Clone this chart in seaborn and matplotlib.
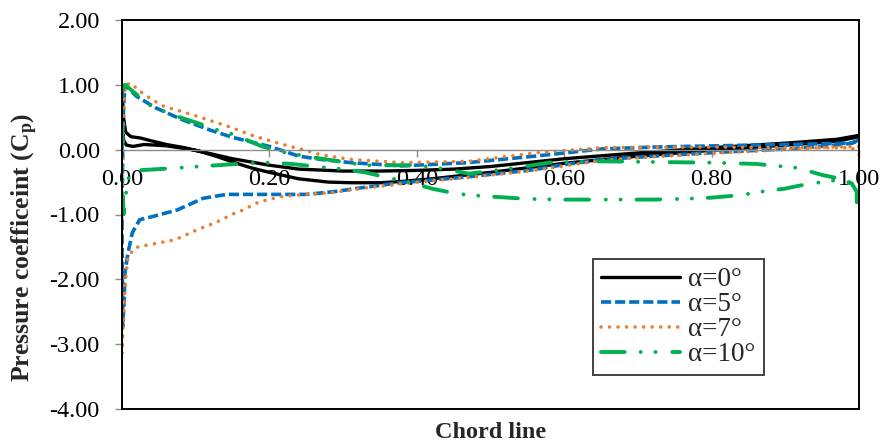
import numpy as np
import pandas as pd
import matplotlib
matplotlib.use("Agg")
import matplotlib.pyplot as plt
from matplotlib.patches import Rectangle
from matplotlib.ticker import FuncFormatter, FixedLocator
import seaborn as sns

# ---------------- data ----------------
labels = ["α=0°", "α=5°", "α=7°", "α=10°"]

# alpha = 0
x_a0_p = [1.0, 0.97, 0.90, 0.80, 0.70, 0.60, 0.55, 0.50, 0.45, 0.40, 0.35, 0.30, 0.24, 0.20, 0.15,
          0.10, 0.06, 0.03, 0.015, 0.006, 0.002, 0.0]
cp_a0_p = [0.22, 0.16, 0.10, 0.03, -0.05, -0.14, -0.20, -0.26, -0.30, -0.32, -0.33, -0.33, -0.30, -0.24, -0.14,
           -0.01, 0.06, 0.08, 0.05, 0.07, 0.15, 0.90]
x_a0_s = [0.0, 0.002, 0.005, 0.012, 0.025, 0.035, 0.06, 0.085, 0.11, 0.13, 0.15, 0.175, 0.20, 0.24, 0.28,
          0.31, 0.35, 0.38, 0.42, 0.46, 0.50, 0.55, 0.60, 0.70, 0.80, 0.90, 0.97, 1.0]
cp_a0_s = [0.90, 0.50, 0.27, 0.20, 0.18, 0.15, 0.08, 0.03, -0.04, -0.11, -0.19, -0.28, -0.35, -0.45, -0.50,
           -0.51, -0.51, -0.49, -0.45, -0.40, -0.35, -0.28, -0.21, -0.10, -0.01, 0.07, 0.13, 0.20]

# alpha = 5
x_a5_p = [1.0, 0.99, 0.90, 0.81, 0.72, 0.65, 0.56, 0.47, 0.38, 0.31, 0.27, 0.24, 0.20, 0.15, 0.12,
          0.08, 0.045, 0.02, 0.008, 0.004, 0.002, 0.001, 0.0, 0.0005, 0.001]
cp_a5_p = [0.15, 0.10, 0.08, 0.06, 0.04, 0.01, -0.10, -0.20, -0.25, -0.20, -0.15, -0.10, 0.05, 0.19, 0.30,
           0.47, 0.65, 0.82, 0.95, 1.00, 0.60, 0.0, -1.0, -2.0, -2.73]
x_a5_s = [0.001, 0.003, 0.004, 0.008, 0.014, 0.024, 0.042, 0.075, 0.11, 0.142, 0.187, 0.25, 0.286, 0.33,
          0.377, 0.42, 0.468, 0.51, 0.558, 0.60, 0.649, 0.68, 0.75, 0.81, 0.90, 0.96, 0.99, 1.0]
cp_a5_s = [-2.73, -2.30, -1.90, -1.60, -1.28, -1.08, -1.03, -0.93, -0.75, -0.69, -0.69, -0.69, -0.65, -0.58,
           -0.51, -0.47, -0.42, -0.37, -0.31, -0.23, -0.16, -0.13, -0.08, -0.04, 0.01, 0.06, 0.10, 0.15]

# alpha = 7
x_a7_p = [1.0, 0.995, 0.99, 0.90, 0.81, 0.72, 0.65, 0.56, 0.47, 0.38, 0.31, 0.27, 0.246, 0.228, 0.197,
          0.174, 0.149, 0.106, 0.081, 0.058, 0.041, 0.027, 0.011, 0.004, 0.001, 0.0, 0.0, 0.0]
cp_a7_p = [-0.08, -0.02, 0.03, 0.03, 0.04, 0.04, 0.03, -0.05, -0.18, -0.20, -0.15, -0.08, 0.0, 0.05, 0.15,
           0.23, 0.34, 0.50, 0.59, 0.66, 0.77, 0.88, 1.03, 0.98, 0.0, -1.0, -2.0, -3.15]
x_a7_s = [0.0, 0.002, 0.004, 0.008, 0.018, 0.035, 0.072, 0.103, 0.126, 0.149, 0.164, 0.187, 0.218, 0.25,
          0.286, 0.33, 0.377, 0.42, 0.468, 0.51, 0.558, 0.60, 0.649, 0.68, 0.75, 0.81, 0.90, 0.96, 1.0]
cp_a7_s = [-3.15, -2.60, -2.10, -1.65, -1.51, -1.47, -1.39, -1.23, -1.13, -1.00, -0.93, -0.80, -0.72, -0.69,
           -0.66, -0.59, -0.53, -0.48, -0.43, -0.38, -0.32, -0.25, -0.17, -0.14, -0.09, -0.05, 0.0, 0.04, 0.05]

# alpha = 10
x_a10_u = [0.0, 0.004, 0.02, 0.035, 0.07, 0.10, 0.13, 0.15, 0.19, 0.22, 0.26, 0.30, 0.33, 0.37, 0.40,
           0.44, 0.47, 0.50, 0.54, 0.58, 0.65, 0.72, 0.80, 0.86, 0.916, 0.95, 0.975, 0.99, 0.997, 0.997]
cp_a10_u = [0.90, 1.00, 0.85, 0.70, 0.53, 0.42, 0.30, 0.24, 0.05, -0.04, -0.12, -0.19, -0.24, -0.24, -0.24,
            -0.30, -0.37, -0.33, -0.27, -0.20, -0.18, -0.19, -0.20, -0.22, -0.28, -0.39, -0.45, -0.52, -0.65, -0.88]
x_a10_l = [0.997, 0.99, 0.975, 0.95, 0.93, 0.90, 0.866, 0.84, 0.80, 0.76, 0.72, 0.66, 0.60, 0.55, 0.51,
           0.47, 0.45, 0.42, 0.39, 0.36, 0.33, 0.30, 0.27, 0.23, 0.20, 0.17, 0.13, 0.09, 0.05, 0.02,
           0.008, 0.004, 0.002, 0.001, 0.0, 0.0]
cp_a10_l = [-0.65, -0.52, -0.46, -0.50, -0.53, -0.60, -0.65, -0.70, -0.74, -0.76, -0.77, -0.77, -0.77, -0.76, -0.73,
            -0.70, -0.67, -0.60, -0.50, -0.43, -0.35, -0.30, -0.27, -0.22, -0.20, -0.21, -0.24, -0.27, -0.30, -0.32,
            -0.45, -0.80, -1.00, -0.60, 0.0, 0.90]

x_ticks = [0.0, 0.2, 0.4, 0.6, 0.8, 1.0]
y_ticks = [-4.0, -3.0, -2.0, -1.0, 0.0, 1.0, 2.0]

# ---------------- styling ----------------
sns.set_theme(style="white")
plt.rcParams["font.family"] = ["Liberation Serif", "DejaVu Serif"]
plt.rcParams["mathtext.fontset"] = "custom"
plt.rcParams["mathtext.rm"] = "Liberation Serif"
plt.rcParams["mathtext.bf"] = "Liberation Serif:bold"
plt.rcParams["mathtext.it"] = "Liberation Serif:italic"
plt.rcParams["axes.unicode_minus"] = False

colors = ["#000000", "#0070C0", "#ED7D31", "#00B050"]
widths = [2.4, 2.6, 2.6, 2.8]
styles = ["-", (0, (2.8, 1.1)), (0, (0.01, 2.35)), (0, (6.1, 4.1, 0.01, 3.8, 0.01, 4.3))]
caps = ["butt", "butt", "round", "round"]

fig = plt.figure(figsize=(8.83, 4.45), dpi=100)
ax = fig.add_axes([122 / 883, 1 - 409 / 445, 737 / 883, 389 / 445])

series = [
    (x_a0_p + x_a0_s, cp_a0_p + cp_a0_s),
    (x_a5_p + x_a5_s, cp_a5_p + cp_a5_s),
    (x_a7_p + x_a7_s, cp_a7_p + cp_a7_s),
    (x_a10_u + x_a10_l, cp_a10_u + cp_a10_l),
]

for (xs, cps), lab, c, lw, ls, cap in zip(series, labels, colors, widths, styles, caps):
    df = pd.DataFrame({"x": xs, "cp": cps})
    sns.lineplot(data=df, x="x", y="cp", sort=False, estimator=None, color=c, lw=lw,
                 label=lab, ax=ax, legend=False)
    ln = ax.lines[-1]
    ln.set_linestyle(ls)
    ln.set_dash_capstyle(cap)
    ln.set_solid_capstyle("round")
    ln.set_solid_joinstyle("round")

ax.set_xlim(0, 1.0)
ax.set_ylim(-4, 2)

ax.xaxis.set_major_locator(FixedLocator(x_ticks))
ax.yaxis.set_major_locator(FixedLocator(y_ticks))
fmt = FuncFormatter(lambda v, p: f"{v:.2f}")
ax.xaxis.set_major_formatter(fmt)
ax.yaxis.set_major_formatter(fmt)

grey = "#8c8c8c"
for s in ["top", "right"]:
    ax.spines[s].set_visible(False)
ax.spines["bottom"].set_position(("data", 0))
ax.spines["bottom"].set_color(grey)
ax.spines["bottom"].set_linewidth(1.0)
ax.spines["left"].set_color(grey)

ax.tick_params(axis="x", direction="out", length=5, width=1, color=grey, pad=9,
               labelsize=17.5, labelcolor="black", bottom=True)
ax.tick_params(axis="y", direction="out", length=5, width=1, color=grey, pad=11,
               labelsize=17.5, labelcolor="black", left=True)

ax.add_patch(Rectangle((0, 0), 1, 1, transform=ax.transAxes, fill=False,
                       ec="black", lw=1.4, clip_on=False, zorder=3))

ax.set_xlabel("Chord line", fontsize=17.5, fontweight="bold", va="center")
ax.xaxis.set_label_coords(0.5, -0.06)
ax.set_ylabel("Pressure coefficeint (C$_\\mathbf{p}$)", fontsize=18.5, fontweight="bold", va="center")
ax.yaxis.set_label_coords(-0.132, 0.416)

leg = ax.legend(loc="center", bbox_to_anchor=(0.755, 0.2365), fontsize=19.5, frameon=True,
                fancybox=False, edgecolor="black", handlelength=2.9, handletextpad=0.3,
                labelspacing=0.0, borderpad=0.3)
leg.get_frame().set_linewidth(1.3)

fig.savefig("out.png", dpi=100, facecolor="white")
